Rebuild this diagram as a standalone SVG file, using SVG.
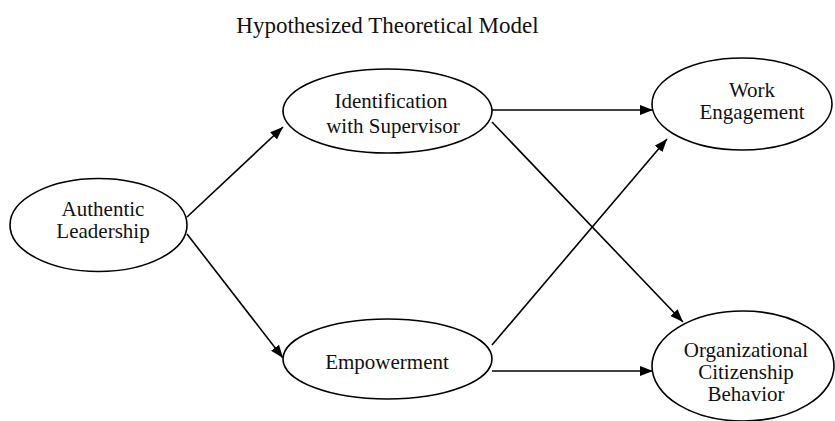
<svg xmlns="http://www.w3.org/2000/svg" width="835" height="421" viewBox="0 0 835 421">
<defs>
<marker id="arr" markerUnits="userSpaceOnUse" markerWidth="14" markerHeight="10" refX="13" refY="5" orient="auto">
<path d="M0,0 L13,5 L0,10 Z" fill="#000"/>
</marker>
<style>
.n{fill:#fff;stroke:#000;stroke-width:1.6}
.t{font-family:"Liberation Serif","Times New Roman",serif;font-size:21px;fill:#111;text-anchor:middle}
.c{stroke:#000;stroke-width:1.6;fill:none;marker-end:url(#arr)}
</style>
</defs>
<rect width="835" height="421" fill="#fff"/>
<text x="387.5" y="33" class="t" style="font-size:23px">Hypothesized Theoretical Model</text>
<g id="connectors">
<line class="c" x1="187" y1="217" x2="283" y2="127"/>
<line class="c" x1="187" y1="234" x2="283" y2="358"/>
<line class="c" x1="492" y1="110" x2="653" y2="110"/>
<line class="c" x1="492" y1="122" x2="683" y2="322"/>
<line class="c" x1="492" y1="345" x2="667" y2="139"/>
<line class="c" x1="492" y1="371" x2="653" y2="371"/>
</g>
<g id="authentic-leadership">
<ellipse class="n" cx="98.5" cy="225" rx="88.5" ry="46.5"/>
<text class="t" x="103" y="216">Authentic</text>
<text class="t" x="103" y="238">Leadership</text>
</g>
<g id="identification">
<ellipse class="n" cx="387.5" cy="111" rx="104.5" ry="42"/>
<text class="t" x="391" y="108">Identification</text>
<text class="t" x="393" y="133">with Supervisor</text>
</g>
<g id="empowerment">
<ellipse class="n" cx="387.5" cy="359" rx="104.5" ry="40"/>
<text class="t" x="387" y="369">Empowerment</text>
</g>
<g id="work-engagement">
<ellipse class="n" cx="742" cy="104" rx="90" ry="46"/>
<text class="t" x="752" y="97">Work</text>
<text class="t" x="752" y="119">Engagement</text>
</g>
<g id="ocb">
<ellipse class="n" cx="743" cy="366" rx="91" ry="55"/>
<text class="t" x="746" y="357">Organizational</text>
<text class="t" x="746" y="379">Citizenship</text>
<text class="t" x="746" y="401">Behavior</text>
</g>
</svg>
